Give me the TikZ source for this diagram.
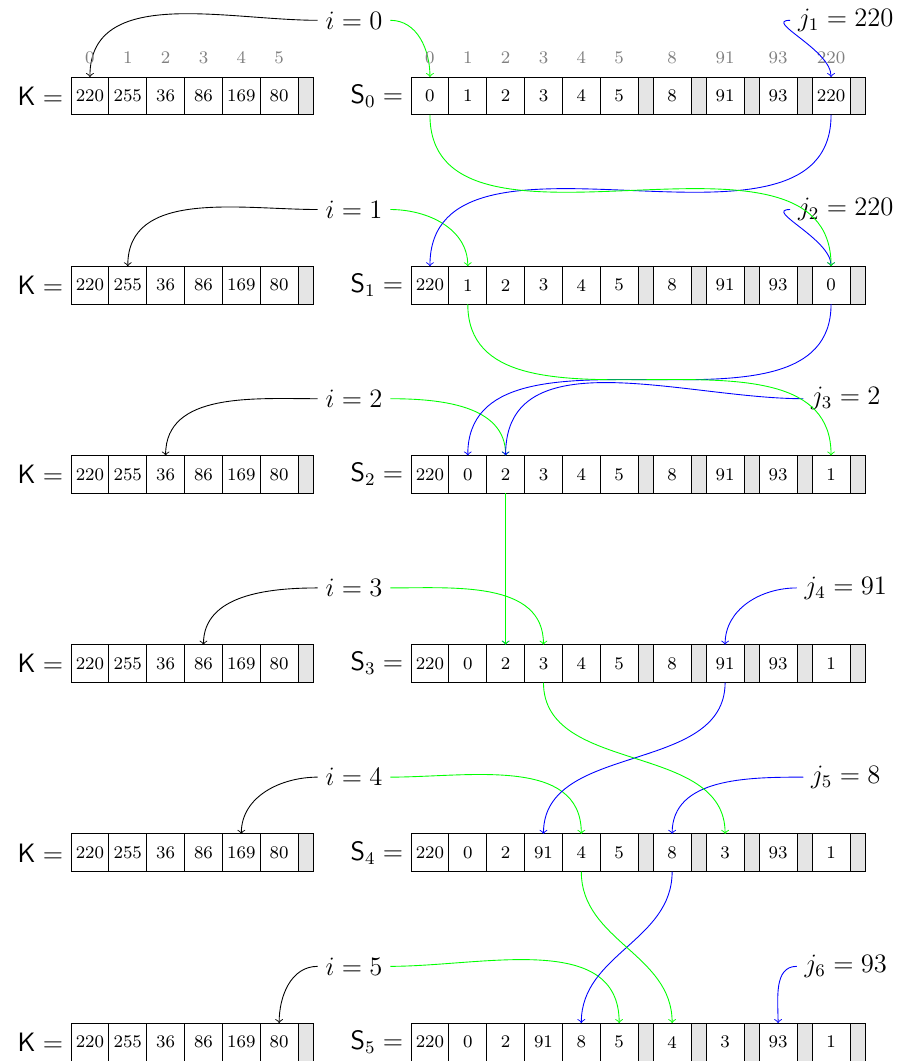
\documentclass[tikz,border=0pt]{standalone}
\usepackage{amsmath}
\usepackage{amssymb}
\usepackage{tikz}
\usetikzlibrary{positioning}

\begin{document}
\begin{tikzpicture}
	[cell/.style={rectangle, draw=black, minimum width=0.6cm, minimum height=0.6cm, inner sep=0pt, outer sep=0pt, font=\footnotesize},
	 pad/.style={rectangle, draw=black, fill=gray!20, minimum width=0.24cm, minimum height=0.6cm, inner sep=0pt, outer sep=0pt},
	 idx/.style={font=\footnotesize, text=gray},
	 lbl/.style={font=\large}]
	\useasboundingbox (0,0) rectangle (14.254,-16.823);
	% the rows K and S_0 ... S_5
	\foreach \row/\vals in {0/{0,1,2,3,4,5,8,91,93,220},
			1/{220,1,2,3,4,5,8,91,93,0},
			2/{220,0,2,3,4,5,8,91,93,1},
			3/{220,0,2,3,4,5,8,91,93,1},
			4/{220,0,2,91,4,5,8,3,93,1},
			5/{220,0,2,91,8,5,4,3,93,1}} {
		\foreach \v [count=\c from 0] in {220,255,36,86,169,80}
			\node[cell] (k\row-\c) at ({1.426+0.6*\c}, {-1.522-3*\row}) {\v};
		\node[pad] (k\row-p) at (4.846, {-1.522-3*\row}) {};
		\node[lbl, left=0pt of k\row-0] (kl\row) {$\mathsf{K} =$};
		\foreach \v [count=\c from 0] in \vals {
			\pgfmathsetmacro\cx{\c<6 ? 6.817+0.6*\c : 10.657+0.84*(\c-6)}
			\node[cell] (s\row-\c) at (\cx, {-1.522-3*\row}) {\v};
		}
		\foreach \g [count=\q] in {10.237,11.077,11.917,12.757,13.597}
			\node[pad] (s\row-p\q) at (\g, {-1.522-3*\row}) {};
		\node[lbl, left=0pt of s\row-0] (sl\row) {$\mathsf{S}_\row =$};
		\node[lbl] (i\row) at (5.613, {-0.322-3*\row}) {$i = \row$};
		\draw[->] (i\row.west) to[out=180, in=90] (k\row-\row.north);
		\draw[->, green] (i\row.east) to[out=0, in=90] (s\row-\row.north);
	}
	% indices above the first row
	\foreach \c in {0,...,5}
		\node[idx, above=2.5pt of k0-\c] (ik\c) {\c};
	\foreach \v [count=\c from 0] in {0,1,2,3,4,5,8,91,93,220}
		\node[idx, above=2.5pt of s0-\c] (is\c) {\v};
	% j values
	\foreach \row/\jv/\jc in {0/220/9, 1/220/9, 2/2/2, 3/91/7, 4/8/6, 5/93/8} {
		\pgfmathtruncatemacro\jn{\row+1}
		\node[lbl] (j\row) at (13.41, {-0.322-3*\row}) {$j_{\jn} = \jv$};
		\draw[->, blue] (j\row.west) to[out=180, in=90] (s\row-\jc.north);
	}
	% swaps
	\foreach \row/\jc in {0/9, 1/9, 2/2, 3/7, 4/6} {
		\pgfmathtruncatemacro\nx{\row+1}
		\draw[->, blue] (s\row-\jc.south) to[out=-90, in=90] (s\nx-\row.north);
		\draw[->, green] (s\row-\row.south) to[out=-90, in=90] (s\nx-\jc.north);
	}
\end{tikzpicture}
\end{document}
